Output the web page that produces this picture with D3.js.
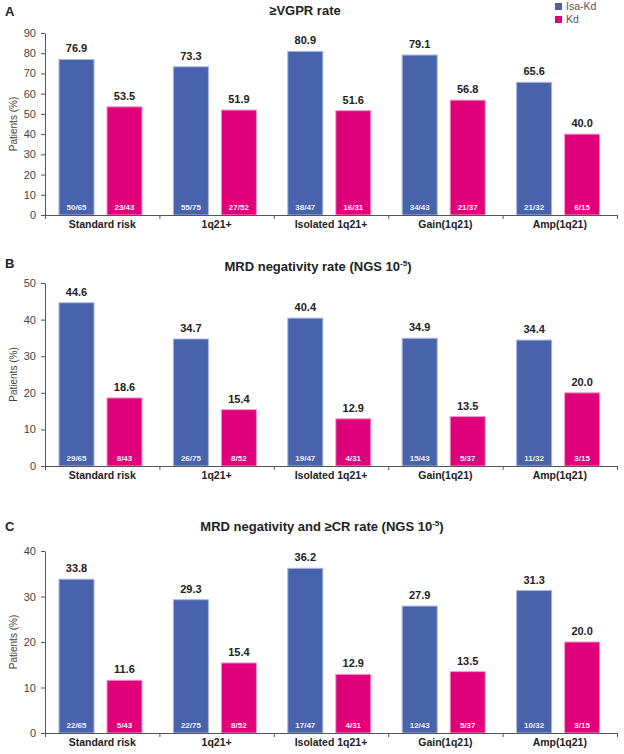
<!DOCTYPE html>
<html><head><meta charset="utf-8">
<script src="https://cdn.jsdelivr.net/npm/d3@7"></script>
<style>
body{margin:0;background:#fff;}
text{font-family:"Liberation Sans",Arial,sans-serif;}
</style></head>
<body><svg id="c" width="624" height="754"></svg>
<script>
const categories = ["Standard risk","1q21+","Isolated 1q21+","Gain(1q21)","Amp(1q21)"];
const series = ["Isa-Kd","Kd"];
const colors = ["#4862AC","#E0007A"];
const strokes = ["#a8b6e0","#f599c8"];

const vgprIsa = [76.9,73.3,80.9,79.1,65.6];
const vgprKd = [53.5,51.9,51.6,56.8,40.0];
const vgprIsaN = ["50/65","55/75","38/47","34/43","21/32"];
const vgprKdN = ["23/43","27/52","16/31","21/37","6/15"];

const mrdIsa = [44.6,34.7,40.4,34.9,34.4];
const mrdKd = [18.6,15.4,12.9,13.5,20.0];
const mrdIsaN = ["29/65","26/75","19/47","15/43","11/32"];
const mrdKdN = ["8/43","8/52","4/31","5/37","3/15"];

const crIsa = [33.8,29.3,36.2,27.9,31.3];
const crKd = [11.6,15.4,12.9,13.5,20.0];
const crIsaN = ["22/65","22/75","17/47","12/43","10/32"];
const crKdN = ["5/43","8/52","4/31","5/37","3/15"];

const ticksA = [0,10,20,30,40,50,60,70,80,90];
const ticksB = [0,10,20,30,40,50];
const ticksC = [0,10,20,30,40];

const svg = d3.select("#c");
const X0 = 45, X1 = 617;

function panel(cfg){
  const g = svg.append("g");
  const y = d3.scaleLinear().domain([0, d3.max(cfg.ticks)]).range([cfg.bottom, cfg.top]);
  const x = d3.scaleBand().domain(categories).range([X0, X1]);
  const x1 = d3.scaleBand().domain(series).range([14, 97]).paddingInner(0.27);
  g.append("text").attr("x",5).attr("y",cfg.letterY).attr("font-size",13).attr("font-weight","bold").attr("fill","#222").text(cfg.letter);
  const t = g.append("text").attr("x",cfg.titleX).attr("y",cfg.titleY).attr("text-anchor","middle")
    .attr("font-size",13).attr("font-weight","bold").attr("fill","#222");
  t.append("tspan").text(cfg.title);
  if(cfg.sup){
    t.append("tspan").attr("font-size",8).attr("dy",-5).text("-5");
    t.append("tspan").attr("dy",5).text(")");
  }
  const ya = g.append("g").attr("transform",`translate(${X0},0)`)
    .call(d3.axisLeft(y).tickValues(cfg.ticks).tickSize(4).tickSizeOuter(0).tickPadding(5));
  ya.select(".domain").attr("stroke","#555");
  ya.selectAll(".tick line").attr("stroke","#555");
  ya.selectAll(".tick text").attr("font-size",11).attr("fill","#444").attr("font-family","Liberation Sans, Arial, sans-serif");
  g.append("text").attr("transform",`translate(13,${(cfg.top+cfg.bottom)/2}) rotate(-90)`)
    .attr("text-anchor","middle").attr("dy","0.35em").attr("font-size",10).attr("fill","#444").text("Patients (%)");
  const data = [];
  categories.forEach((c,i)=>{
    data.push({c, s:0, v:cfg.isa[i], n:cfg.isaN[i]});
    data.push({c, s:1, v:cfg.kd[i], n:cfg.kdN[i]});
  });
  const bx = d => x(d.c) + x1(series[d.s]);
  g.selectAll("rect.bar").data(data).join("rect").attr("class","bar")
    .attr("x",bx).attr("width",x1.bandwidth())
    .attr("y",d=>y(d.v)).attr("height",d=>y(0)-y(d.v))
    .attr("fill",d=>colors[d.s]).attr("stroke",d=>strokes[d.s]).attr("stroke-width",1);
  g.selectAll("text.val").data(data).join("text").attr("class","val")
    .attr("x",d=>bx(d)+x1.bandwidth()/2).attr("y",d=>y(d.v)-7)
    .attr("text-anchor","middle").attr("font-size",11).attr("font-weight","bold").attr("fill","#222")
    .text(d=>d.v.toFixed(1));
  g.selectAll("text.n").data(data).join("text").attr("class","n")
    .attr("x",d=>bx(d)+x1.bandwidth()/2).attr("y",y(0)-5)
    .attr("text-anchor","middle").attr("font-size",8).attr("font-weight","bold").attr("fill","#eef0ff")
    .text(d=>d.n);
  const xl = d3.scaleLinear().domain([0,5]).range([X0,X1]);
  const xa = g.append("g").attr("transform",`translate(0,${cfg.bottom})`)
    .call(d3.axisBottom(xl).tickValues([0,1,2,3,4,5]).tickFormat("").tickSize(4).tickSizeOuter(0));
  xa.select(".domain").attr("stroke","#555");
  xa.selectAll(".tick line").attr("stroke","#555");
  g.selectAll("text.cat").data(categories).join("text").attr("class","cat")
    .attr("x",d=>x(d)+x.bandwidth()/2).attr("y",cfg.bottom+13)
    .attr("text-anchor","middle").attr("font-size",10.5).attr("font-weight","bold").attr("fill","#222")
    .text(d=>d);
}

panel({letter:"A",letterY:16,title:"≥VGPR rate",titleX:305,titleY:15,ticks:ticksA,top:33,bottom:215,
  isa:vgprIsa,kd:vgprKd,isaN:vgprIsaN,kdN:vgprKdN});
panel({letter:"B",letterY:268,title:"MRD negativity rate (NGS 10",sup:true,titleX:318,titleY:271,ticks:ticksB,top:283,bottom:466,
  isa:mrdIsa,kd:mrdKd,isaN:mrdIsaN,kdN:mrdKdN});
panel({letter:"C",letterY:531,title:"MRD negativity and ≥CR rate (NGS 10",sup:true,titleX:322,titleY:531,ticks:ticksC,top:551,bottom:733,
  isa:crIsa,kd:crKd,isaN:crIsaN,kdN:crKdN});

const lg = svg.append("g");
series.forEach((s,i)=>{
  lg.append("rect").attr("x",555).attr("y",3+i*13).attr("width",7).attr("height",7).attr("fill",colors[i]);
  lg.append("text").attr("x",566).attr("y",10+i*13).attr("font-size",10.5).attr("fill","#555").text(s);
});
</script></body></html>
